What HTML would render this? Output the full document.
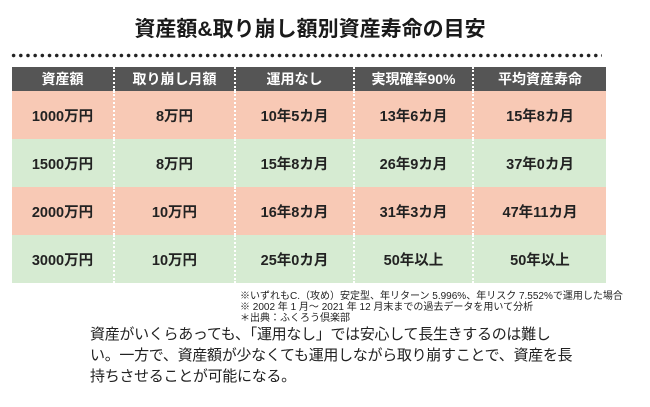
<!DOCTYPE html>
<html><head><meta charset="utf-8"><style>
body{margin:0;width:650px;height:407px;background:#fff;font-family:"Liberation Sans","Noto Sans CJK JP",sans-serif;position:relative;overflow:hidden;color:#1a1a1a}
.t{position:absolute;left:0;width:620px;top:16px;text-align:center;font-size:21px;font-weight:bold;line-height:28px}
.dots{position:absolute;left:10px;top:53px;width:592px;height:5px;background:radial-gradient(circle,#222 1.6px,transparent 2px) 0 0/7.2px 5px repeat-x}
table{position:absolute;left:12px;top:67px;border-collapse:collapse;font-size:14.5px;font-weight:bold}
td,th{text-align:center;padding:0;border-left:2px dotted #fff;white-space:nowrap}
td:first-child,th:first-child{border-left:none}
th{background:#555;color:#fff;height:24px;font-size:14px}
tr.s td{background:#f8c9b5}
tr.g td{background:#d6ebd2}
td{height:48px;color:#222}
.n{position:absolute;left:240px;top:291px;font-size:10px;line-height:11px;color:#222;white-space:nowrap}
.p{position:absolute;left:90px;top:324px;font-size:15px;line-height:21px;color:#222;white-space:nowrap;letter-spacing:-0.3px}
</style></head><body>
<div class="t">資産額&amp;取り崩し額別資産寿命の目安</div>
<div class="dots"></div>
<table>
<tr><th style="width:101px">資産額</th><th style="width:119px">取り崩し月額</th><th style="width:117px">運用なし</th><th style="width:117px">実現確率90%</th><th style="width:132px">平均資産寿命</th></tr>
<tr class="s"><td>1000万円</td><td>8万円</td><td>10年5カ月</td><td>13年6カ月</td><td>15年8カ月</td></tr>
<tr class="g"><td>1500万円</td><td>8万円</td><td>15年8カ月</td><td>26年9カ月</td><td>37年0カ月</td></tr>
<tr class="s"><td>2000万円</td><td>10万円</td><td>16年8カ月</td><td>31年3カ月</td><td>47年11カ月</td></tr>
<tr class="g"><td>3000万円</td><td>10万円</td><td>25年0カ月</td><td>50年以上</td><td>50年以上</td></tr>
</table>
<div class="n">※いずれもC.（攻め）安定型、年リターン 5.996%、年リスク 7.552%で運用した場合<br>※ 2002 年 1 月～ 2021 年 12 月末までの過去データを用いて分析<br>＊出典：ふくろう倶楽部</div>
<div class="p">資産がいくらあっても、「運用なし」では安心して長生きするのは難し<br>い。一方で、資産額が少なくても運用しながら取り崩すことで、資産を長<br>持ちさせることが可能になる。</div>
</body></html>
